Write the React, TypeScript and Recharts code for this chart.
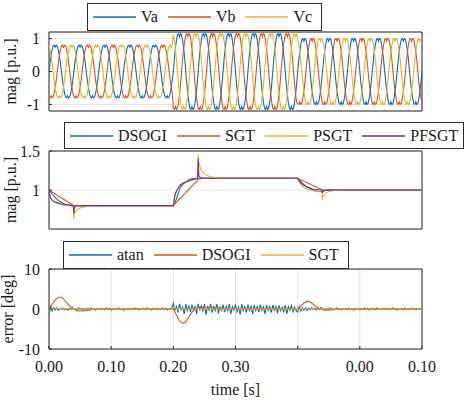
import React from 'react';
import { LineChart, Line, XAxis, YAxis, CartesianGrid, ReferenceArea, Label } from 'recharts';

const FONT = "'Liberation Serif', 'Times New Roman', serif";
const C_BLUE = '#0072BD';
const C_ORANGE = '#D95319';
const C_YELLOW = '#EDB120';
const C_PURPLE = '#7E2F8E';
const TXT = '#1a1a1a';
const GRID = '#e3e3e3';
const FRAME = '#2b2b2b';

// ---------- shared x axis ----------
const xTicks = [0, 0.1, 0.2, 0.3, 0.4, 0.5, 0.6];
const xTickLabels = ['0.00', '0.10', '0.20', '0.30', '', '0.00', '0.10'];

// ---------- top panel: three-phase voltages ----------
// one cycle of each phase, 24 samples (15 deg steps), normalised (flat-top with notch)
const vaCycle = [0, 0.33, 0.6, 0.82, 0.97, 1.0, 0.92, 1.0, 0.97, 0.82, 0.6, 0.33, 0, -0.33, -0.6, -0.82, -0.97, -1.0, -0.92, -1.0, -0.97, -0.82, -0.6, -0.33];
const vbCycle = [-0.97, -1.0, -0.92, -1.0, -0.97, -0.82, -0.6, -0.33, 0, 0.33, 0.6, 0.82, 0.97, 1.0, 0.92, 1.0, 0.97, 0.82, 0.6, 0.33, 0, -0.33, -0.6, -0.82];
const vcCycle = [0.97, 0.82, 0.6, 0.33, 0, -0.33, -0.6, -0.82, -0.97, -1.0, -0.92, -1.0, -0.97, -0.82, -0.6, -0.33, 0, 0.33, 0.6, 0.82, 0.97, 1.0, 0.92, 1.0];
// amplitude of each 0.04 s cycle
const cycleAmplitude = [0.8, 0.8, 0.8, 0.8, 0.8, 1.15, 1.15, 1.15, 1.15, 1.15, 1.0, 1.0, 1.0, 1.0, 1.0];
const cyclePeriod = 0.04;
const voltageNames = ['Va', 'Vb', 'Vc'];

const voltageRows: { t: number; va: number; vb: number; vc: number }[] = [];
cycleAmplitude.forEach((amp, c) => {
  vaCycle.forEach((_, k) => {
    voltageRows.push({
      t: (c + k / vaCycle.length) * cyclePeriod,
      va: amp * vaCycle[k],
      vb: amp * vbCycle[k],
      vc: amp * vcCycle[k],
    });
  });
});
voltageRows.push({ t: 0.6, va: vaCycle[0], vb: vbCycle[0], vc: vcCycle[0] });

// ---------- middle panel: magnitude estimates [t, mag] ----------
const magDSOGI: [number, number][] = [
  [0, 1], [0.004, 0.96], [0.008, 0.92], [0.012, 0.89], [0.016, 0.86], [0.02, 0.84], [0.025, 0.82], [0.03, 0.81], [0.036, 0.8], [0.2, 0.8],
  [0.203, 0.84], [0.206, 0.91], [0.211, 1.03], [0.215, 1.07], [0.219, 1.1], [0.225, 1.13], [0.23, 1.145], [0.236, 1.15], [0.4, 1.15],
  [0.405, 1.11], [0.41, 1.07], [0.415, 1.04], [0.42, 1.02], [0.425, 1.0], [0.43, 0.985], [0.435, 0.98], [0.44, 0.985], [0.45, 1.0], [0.6, 1.0],
];
const magSGT: [number, number][] = [
  [0, 1], [0.04, 0.8], [0.2, 0.8], [0.242, 1.15], [0.4, 1.15], [0.44, 1.0], [0.6, 1.0],
];
const magPSGT: [number, number][] = [
  [0, 1], [0.002, 0.9], [0.006, 0.86], [0.012, 0.83], [0.02, 0.81], [0.03, 0.8], [0.039, 0.8], [0.04, 0.63], [0.041, 0.7], [0.045, 0.75], [0.05, 0.77], [0.06, 0.79], [0.07, 0.8], [0.2, 0.8],
  [0.202, 0.92], [0.206, 1.0], [0.21, 1.05], [0.215, 1.09], [0.22, 1.11], [0.23, 1.13], [0.239, 1.15], [0.24, 1.45], [0.241, 1.35], [0.245, 1.25], [0.25, 1.2], [0.26, 1.17], [0.27, 1.155], [0.28, 1.15], [0.4, 1.15],
  [0.402, 1.1], [0.406, 1.06], [0.41, 1.03], [0.42, 1.0], [0.43, 0.98], [0.439, 0.975], [0.44, 0.87], [0.441, 0.92], [0.445, 0.96], [0.45, 0.98], [0.46, 0.995], [0.47, 1.0], [0.6, 1.0],
];
const magPFSGT: [number, number][] = [
  [0, 1], [0.002, 0.9], [0.006, 0.86], [0.012, 0.84], [0.02, 0.82], [0.03, 0.81], [0.039, 0.8], [0.04, 0.7], [0.041, 0.78], [0.045, 0.8], [0.2, 0.8],
  [0.203, 0.95], [0.207, 1.02], [0.212, 1.07], [0.22, 1.1], [0.23, 1.13], [0.239, 1.15], [0.24, 1.4], [0.241, 1.18], [0.245, 1.15], [0.4, 1.15],
  [0.403, 1.11], [0.408, 1.07], [0.415, 1.04], [0.425, 1.01], [0.439, 1.0], [0.44, 0.96], [0.441, 0.99], [0.445, 1.0], [0.6, 1.0],
];
const magNames = ['DSOGI', 'SGT', 'PSGT', 'PFSGT'];

// ---------- bottom panel: phase error [deg] ----------
const errStep = 0.0025;
const atanSeg1 = [-1.0, 0.9, -0.5, 0.4, -0.2, 0.3, -0.3, 0.2, -0.1, 0.3, -0.2, 0.1, -0.3, 0.2, -0.1, 0.4, -0.2, 0.1, -0.2, 0.3, -0.1, 0.2, -0.3, 0.1, -0.1, 0.2, -0.2, 0.3, -0.1, 0.1, -0.3, 0.2, -0.1, 0.2, -0.2, 0.1, -0.2, 0.3, -0.1, 0.2, -0.3, 0.1, -0.1, 0.2, -0.2, 0.3, -0.1, 0.1, -0.4, 0.2, -0.1, 0.2, -0.2, 0.1, -0.2, 0.3, -0.1, 0.2, -0.3, 0.1, -0.1, 0.2, -0.2, 0.3, -0.1, 0.1, -0.3, 0.2, -0.1, 0.2, -0.2, 0.1, -0.2, 0.3, -0.1, 0.2, -0.3, 0.1, -0.1, 0.2];
const atanSeg2 = [1.4, -0.3, 0.6, -0.9, 1.3, -0.2, 0.5, -1.3, 1.2, -0.4, 0.7, -0.7, 1.1, -0.3, 0.6, -1.2, 1.3, -0.2, 0.8, -0.6, 1.2, -1.4, 0.5, -0.3, 1.3, -0.9, 0.6, -0.4, 1.2, -1.1, 0.5, -0.3, 1.1, -0.8, 0.7, -0.4, 1.2, -1.2, 0.6, -0.3, 1.1, -0.7, 0.5, -1.4, 1.2, -0.4, 0.6, -0.9, 1.1, -0.3, 0.7, -1.2, 1.0, -0.4, 0.6, -0.8, 1.1, -0.3, 0.5, -1.3, 1.0, -0.4, 0.6, -0.9, 1.0, -0.3, 0.6, -1.1, 0.9, -0.4, 0.5, -0.8, 1.0, -1.2, 0.6, -0.3, 0.9, -0.7, 0.5, -0.4];
const atanSeg3 = [-0.8, 0.6, -0.5, 0.4, -0.3, 0.3, -0.4, 0.2, -0.2, 0.3, -0.1, 0.2, -0.3, 0.2, -0.1, 0.4, -0.2, 0.1, -0.3, 0.2, -0.1, 0.3, -0.2, 0.1, -0.2, 0.3, -0.1, 0.2, -0.3, 0.1, -0.1, 0.2, -0.2, 0.3, -0.1, 0.1, -0.3, 0.2, -0.1, 0.2, -0.2, 0.1, -0.2, 0.3, -0.1, 0.2, -0.3, 0.1, -0.1, 0.2, -0.2, 0.3, -0.1, 0.1, -0.2, 0.2, -0.1, 0.2, -0.2, 0.1, -0.2, 0.3, -0.1, 0.2, -0.3, 0.1, -0.1, 0.2, -0.2, 0.3, -0.1, 0.1, -0.2, 0.2, -0.1, 0.2, -0.2, 0.1, -0.1, 0.1, 0];
const atanSegStarts = [0, 0.2, 0.4];
const errDSOGI: [number, number][] = [
  [0, 0], [0.005, 1.2], [0.01, 2.3], [0.015, 2.9], [0.018, 3.0], [0.022, 2.7], [0.028, 1.6], [0.034, 0.6], [0.04, 0], [0.045, -0.4], [0.05, -0.5], [0.06, -0.4], [0.07, -0.1], [0.08, 0], [0.2, 0],
  [0.205, -1.5], [0.21, -3.0], [0.215, -3.6], [0.22, -3.2], [0.225, -2.0], [0.23, -0.8], [0.235, 0], [0.24, 0.4], [0.25, 0.5], [0.26, 0.5], [0.27, 0.3], [0.28, 0.1], [0.29, 0], [0.4, 0],
  [0.405, 0.7], [0.41, 1.5], [0.415, 1.9], [0.42, 1.8], [0.425, 1.2], [0.43, 0.5], [0.435, 0.1], [0.44, -0.2], [0.45, -0.3], [0.46, -0.1], [0.47, 0], [0.6, 0],
];
const errSGT: [number, number][] = [
  [0, 0], [0.002, -0.5], [0.005, 0.3], [0.01, 0.2], [0.02, 0.1], [0.04, 0], [0.2, 0], [0.202, 0.5], [0.206, -0.3], [0.21, 0.2], [0.22, 0], [0.4, 0], [0.402, -0.3], [0.406, 0.2], [0.41, 0], [0.6, 0],
];
const errNames = ['atan', 'DSOGI', 'SGT'];

const toRows = (pairs: [number, number][]) => pairs.map(([t, v]) => ({ t, v }));
const atanRows: { t: number; v: number }[] = [];
[atanSeg1, atanSeg2, atanSeg3].forEach((seg, s) => {
  seg.forEach((v, i) => atanRows.push({ t: atanSegStarts[s] + i * errStep, v }));
});

// ---------- layout ----------
const W = 466;
const PLOT_L = 49;
const PLOT_R = 422;
const TICK_IN = -3;

function LegendBox({ left, top, width, height, items }: { left: number; top: number; width: number; height: number; items: { name: string; color: string }[] }) {
  return (
    <div style={{ position: 'absolute', left, top, width, height, boxSizing: 'border-box', border: `1px solid ${FRAME}`, background: '#fff', display: 'flex', alignItems: 'center', paddingLeft: 5, fontFamily: FONT, fontSize: 16, color: TXT, whiteSpace: 'nowrap' }}>
      {items.map((it) => (
        <React.Fragment key={it.name}>
          <svg width={43} height={4} style={{ display: 'block', marginRight: 5, flex: 'none' }}>
            <line x1={0} y1={2} x2={43} y2={2} stroke={it.color} strokeWidth={1.3} />
          </svg>
          <span style={{ marginRight: 10, lineHeight: '16px' }}>{it.name}</span>
        </React.Fragment>
      ))}
    </div>
  );
}

const tickStyle = { fontSize: 16, fill: TXT, fontFamily: FONT };
const tickLineStyle = { stroke: FRAME, strokeWidth: 1 };

function RotLabel({ text, x, cy }: { text: string; x: number; cy: number }) {
  return (
    <text x={x} y={cy} transform={`rotate(-90 ${x} ${cy})`} textAnchor="middle" fontSize={16} fill={TXT} fontFamily={FONT}>
      {text}
    </text>
  );
}

function FrameAxes({ yTicks, yDomain }: { yTicks: number[]; yDomain: [number, number] }) {
  return null;
}

export default function App() {
  const panel1 = { top: 0, h: 116, mt: 32, mb: 5 };
  const panel2 = { top: 116, h: 118, mt: 35, mb: 5 };
  const panel3 = { top: 234, h: 168, mt: 35, mb: 0, xh: 53 };

  const extraAxes = (yDomain: [number, number], yTicks: number[]) => [
    <XAxis key="xt" xAxisId="top" orientation="top" dataKey="t" type="number" domain={[0, 0.6]} ticks={xTicks} height={0} tick={false} axisLine={false} tickLine={tickLineStyle} tickSize={TICK_IN} allowDataOverflow />,
    <YAxis key="yr" yAxisId="right" orientation="right" type="number" domain={yDomain} ticks={yTicks} width={0} tick={false} axisLine={false} tickLine={tickLineStyle} tickSize={TICK_IN} allowDataOverflow />,
  ];

  return (
    <div style={{ position: 'absolute', left: 0, top: 0, width: W, height: 402, background: '#fff', fontFamily: FONT, overflow: 'hidden' }}>
      {/* Top panel */}
      <div style={{ position: 'absolute', left: 0, top: panel1.top }}>
        <LineChart width={W} height={panel1.h} margin={{ top: panel1.mt, right: W - PLOT_R, bottom: panel1.mb, left: 0 }}>
          <CartesianGrid stroke={GRID} strokeWidth={1} />
          <XAxis dataKey="t" type="number" domain={[0, 0.6]} ticks={xTicks} height={0} tick={false} axisLine={false} tickLine={tickLineStyle} tickSize={TICK_IN} allowDataOverflow />
          <YAxis type="number" domain={[-1.2, 1.2]} ticks={[-1, 0, 1]} width={PLOT_L} tick={tickStyle} tickLine={tickLineStyle} axisLine={false} tickSize={TICK_IN} tickMargin={12} allowDataOverflow>
            <Label content={() => <RotLabel text="mag [p.u.]" x={16} cy={panel1.mt + (panel1.h - panel1.mt - panel1.mb) / 2} />} />
          </YAxis>
          {extraAxes([-1.2, 1.2], [-1, 0, 1])}
          <Line data={voltageRows} dataKey="va" name={voltageNames[0]} stroke={C_BLUE} strokeWidth={1.1} dot={false} isAnimationActive={false} type="linear" />
          <Line data={voltageRows} dataKey="vb" name={voltageNames[1]} stroke={C_ORANGE} strokeWidth={1.1} dot={false} isAnimationActive={false} type="linear" />
          <Line data={voltageRows} dataKey="vc" name={voltageNames[2]} stroke={C_YELLOW} strokeWidth={1.1} dot={false} isAnimationActive={false} type="linear" />
          <ReferenceArea x1={0} x2={0.6} y1={-1.2} y2={1.2} fill="none" stroke={FRAME} strokeWidth={1} ifOverflow="visible" />
        </LineChart>
      </div>

      {/* Middle panel */}
      <div style={{ position: 'absolute', left: 0, top: panel2.top }}>
        <LineChart width={W} height={panel2.h} margin={{ top: panel2.mt, right: W - PLOT_R, bottom: panel2.mb, left: 0 }}>
          <CartesianGrid stroke={GRID} strokeWidth={1} />
          <XAxis dataKey="t" type="number" domain={[0, 0.6]} ticks={xTicks} height={0} tick={false} axisLine={false} tickLine={tickLineStyle} tickSize={TICK_IN} allowDataOverflow />
          <YAxis type="number" domain={[0.5, 1.5]} ticks={[0.5, 1, 1.5]} width={PLOT_L} tick={tickStyle} tickLine={tickLineStyle} axisLine={false} tickSize={TICK_IN} tickMargin={12} allowDataOverflow>
            <Label content={() => <RotLabel text="mag [p.u.]" x={16} cy={panel2.mt + (panel2.h - panel2.mt - panel2.mb) / 2} />} />
          </YAxis>
          {extraAxes([0.5, 1.5], [0.5, 1, 1.5])}
          <Line data={toRows(magDSOGI)} dataKey="v" name={magNames[0]} stroke={C_BLUE} strokeWidth={1.1} dot={false} isAnimationActive={false} type="linear" />
          <Line data={toRows(magSGT)} dataKey="v" name={magNames[1]} stroke={C_ORANGE} strokeWidth={1.1} dot={false} isAnimationActive={false} type="linear" />
          <Line data={toRows(magPSGT)} dataKey="v" name={magNames[2]} stroke={C_YELLOW} strokeWidth={1.1} dot={false} isAnimationActive={false} type="linear" />
          <Line data={toRows(magPFSGT)} dataKey="v" name={magNames[3]} stroke={C_PURPLE} strokeWidth={1.1} dot={false} isAnimationActive={false} type="linear" />
          <ReferenceArea x1={0} x2={0.6} y1={0.5} y2={1.5} fill="none" stroke={FRAME} strokeWidth={1} ifOverflow="visible" />
        </LineChart>
      </div>

      {/* Bottom panel */}
      <div style={{ position: 'absolute', left: 0, top: panel3.top }}>
        <LineChart width={W} height={panel3.h} margin={{ top: panel3.mt, right: W - PLOT_R, bottom: panel3.mb, left: 0 }}>
          <CartesianGrid stroke={GRID} strokeWidth={1} />
          <XAxis dataKey="t" type="number" domain={[0, 0.6]} ticks={xTicks} height={panel3.xh} tick={tickStyle} tickFormatter={(_v: number, i: number) => xTickLabels[i]} axisLine={false} tickLine={tickLineStyle} tickSize={TICK_IN} tickMargin={15} allowDataOverflow>
            <Label content={() => (
              <text x={(PLOT_L + PLOT_R) / 2} y={panel3.h - 7} textAnchor="middle" fontSize={16} fill={TXT} fontFamily={FONT}>time [s]</text>
            )} />
          </XAxis>
          <YAxis type="number" domain={[-10, 10]} ticks={[-10, 0, 10]} width={PLOT_L} tick={tickStyle} tickLine={tickLineStyle} axisLine={false} tickSize={TICK_IN} tickMargin={12} allowDataOverflow>
            <Label content={() => <RotLabel text="error [deg]" x={12.5} cy={panel3.mt + (panel3.h - panel3.mt - panel3.xh) / 2} />} />
          </YAxis>
          {extraAxes([-10, 10], [-10, 0, 10])}
          <Line data={atanRows} dataKey="v" name={errNames[0]} stroke={C_BLUE} strokeWidth={1.1} dot={false} isAnimationActive={false} type="linear" />
          <Line data={toRows(errDSOGI)} dataKey="v" name={errNames[1]} stroke={C_ORANGE} strokeWidth={1.1} dot={false} isAnimationActive={false} type="linear" />
          <Line data={toRows(errSGT)} dataKey="v" name={errNames[2]} stroke={C_YELLOW} strokeWidth={1.1} dot={false} isAnimationActive={false} type="linear" />
          <ReferenceArea x1={0} x2={0.6} y1={-10} y2={10} fill="none" stroke={FRAME} strokeWidth={1} ifOverflow="visible" />
        </LineChart>
      </div>

      <LegendBox left={87} top={3} width={235} height={28} items={voltageNames.map((n, i) => ({ name: n, color: [C_BLUE, C_ORANGE, C_YELLOW][i] }))} />
      <LegendBox left={64} top={122} width={400} height={27} items={magNames.map((n, i) => ({ name: n, color: [C_BLUE, C_ORANGE, C_YELLOW, C_PURPLE][i] }))} />
      <LegendBox left={63} top={241} width={286} height={28} items={errNames.map((n, i) => ({ name: n, color: [C_BLUE, C_ORANGE, C_YELLOW][i] }))} />
    </div>
  );
}
